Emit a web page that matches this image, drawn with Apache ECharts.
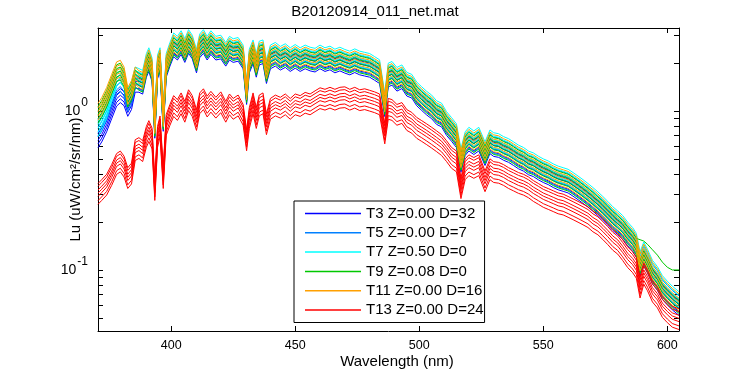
<!DOCTYPE html>
<html><head><meta charset="utf-8">
<script src="https://cdn.jsdelivr.net/npm/echarts@6/dist/echarts.min.js"></script>
<style>html,body{margin:0;padding:0;background:#fff}#c{width:750px;height:375px}</style>
</head><body><div id="c"></div>
<script>
// ---- data ----
const wavelength = [
  370.5, 372, 374, 376, 378, 379.5, 381, 382.5, 384, 385.5,
  387, 388.5, 390, 391, 392.3, 393.4, 394.5, 395.5, 396.8, 398,
  399.5, 401, 402.5, 404, 405.5, 407, 408.5, 410.2, 411.5, 413,
  414.5, 416, 418, 420, 422, 423.5, 425, 427, 429, 430.4,
  431.5, 433, 434.3, 435.5, 437, 438.4, 440, 442, 444, 446,
  448, 450, 452, 454, 456, 458, 460, 462, 464, 466,
  468, 470, 472, 474, 476, 478, 480, 482, 484, 486.1,
  487.5, 489, 491, 493, 495, 497, 499, 501, 503, 505,
  507, 509, 511, 513, 515, 516.8, 518.5, 520, 522, 524,
  526.5, 528.5, 530, 532, 534, 536, 538, 540, 542, 544,
  546, 548, 550, 552, 554, 556, 558, 560, 562, 564,
  566, 568, 570, 572, 574, 576, 578, 580, 582, 584,
  586, 587.5, 589, 590.5, 592, 594, 596, 598, 600, 602,
  604.7
];
// upper envelope of the T3..T11 spectra
const luBandTop = [
  1.15, 1.25, 1.45, 1.75, 2.10, 2.15, 1.95, 1.45, 1.60, 1.95,
  1.85, 1.80, 2.30, 2.50, 2.15, 0.95, 2.25, 2.50, 1.05, 2.30,
  2.70, 3.10, 2.95, 3.20, 2.85, 3.25, 3.00, 2.45, 3.05, 3.25,
  2.95, 3.20, 2.95, 3.00, 2.70, 2.95, 2.85, 2.90, 2.60, 1.55,
  2.45, 2.80, 2.30, 2.75, 2.80, 2.10, 2.60, 2.70, 2.55, 2.65,
  2.50, 2.62, 2.50, 2.60, 2.52, 2.48, 2.60, 2.50, 2.56, 2.45,
  2.52, 2.44, 2.38, 2.46, 2.38, 2.34, 2.30, 2.20, 2.10, 1.30,
  2.00, 2.05, 1.88, 1.95, 1.75, 1.70, 1.52, 1.42, 1.33, 1.26,
  1.16, 1.12, 0.99, 0.91, 0.83, 0.58, 0.74, 0.79, 0.75, 0.79,
  0.64, 0.76, 0.73, 0.72, 0.69, 0.67, 0.64, 0.61, 0.59, 0.56,
  0.545, 0.52, 0.50, 0.485, 0.465, 0.45, 0.44, 0.43, 0.41, 0.39,
  0.37, 0.35, 0.33, 0.31, 0.29, 0.27, 0.25, 0.235, 0.22, 0.20,
  0.185, 0.17, 0.13, 0.15, 0.135, 0.115, 0.105, 0.092, 0.085, 0.079,
  0.073
];
// upper envelope of the T13 spectra
const luRedTop = [
  0.35, 0.37, 0.40, 0.46, 0.54, 0.56, 0.52, 0.44, 0.47, 0.66,
  0.68, 0.65, 0.80, 0.87, 0.78, 0.37, 0.80, 0.93, 0.44, 0.95,
  1.10, 1.25, 1.18, 1.30, 1.15, 1.36, 1.25, 1.02, 1.30, 1.38,
  1.24, 1.33, 1.22, 1.32, 1.15, 1.28, 1.20, 1.26, 1.10, 0.76,
  1.05, 1.30, 1.05, 1.26, 1.30, 0.96, 1.20, 1.26, 1.22, 1.28,
  1.20, 1.28, 1.25, 1.31, 1.28, 1.34, 1.40, 1.37, 1.41, 1.37,
  1.41, 1.42, 1.37, 1.41, 1.36, 1.38, 1.35, 1.32, 1.28, 0.84,
  1.20, 1.18, 1.10, 1.13, 1.02, 0.98, 0.91, 0.87, 0.83, 0.79,
  0.75, 0.71, 0.65, 0.59, 0.56, 0.38, 0.50, 0.53, 0.51, 0.53,
  0.42, 0.50, 0.48, 0.475, 0.46, 0.44, 0.425, 0.41, 0.40, 0.385,
  0.365, 0.35, 0.335, 0.325, 0.315, 0.305, 0.30, 0.29, 0.28, 0.27,
  0.26, 0.25, 0.235, 0.225, 0.21, 0.195, 0.18, 0.17, 0.155, 0.14,
  0.13, 0.12, 0.09, 0.11, 0.10, 0.085, 0.078, 0.068, 0.063, 0.059,
  0.057
];
const groupNames = ['T3 Z=0.00 D=32', 'T5 Z=0.00 D=7', 'T7 Z=0.50 D=0',
                    'T9 Z=0.08 D=0', 'T11 Z=0.00 D=16', 'T13 Z=0.00 D=24'];
const groupColors = ['#0000FF', '#0080FF', '#00FFFF', '#00C800', '#FFA000', '#FF0000'];
// relative level of each spectrum inside its group
const scalesT3 = [0.71, 0.75, 0.79, 0.83, 0.87];
const scalesT5 = [0.74, 0.79, 0.84, 0.89, 0.94];
const scalesT7 = [0.80, 0.85, 0.90, 0.95, 1.00];
const scalesT9 = [0.73, 0.78, 0.83, 0.88, 0.93];
const scalesT11 = [0.76, 0.81, 0.86, 0.91, 0.97];
const scalesT13 = [0.74, 0.78, 0.83, 0.87, 0.91, 0.96, 1.00];
// short-wave (370-386 nm) level of each group relative to the band
const uvT3 = [0.72, 0.72, 0.72, 0.72, 0.72, 0.74, 0.78, 0.90, 0.90, 0.95];
const uvT5 = [0.82, 0.82, 0.82, 0.82, 0.82, 0.84, 0.86, 0.93, 0.93, 0.97];
const uvT7 = [0.75, 0.76, 0.78, 0.82, 0.85, 0.88, 0.90, 0.95, 0.95, 0.97];
const uvT9 = [];
const uvT11 = [];
const uvT13 = [];
// the one T9 spectrum that stays high beyond 589 nm
const t9OutlierFrom = 589;
const t9OutlierTail = [0.155, 0.152, 0.145, 0.134, 0.124, 0.112, 0.104, 0.100, 0.100];
// axis ticks
const xTickValues = [400, 450, 500, 550, 600];
const yTickValues = [0.05, 0.06, 0.07, 0.08, 0.09, 0.1, 0.2, 0.3, 0.4, 0.5, 0.6, 0.7, 0.8, 0.9, 1, 2, 3];
const yLabelValues = [0.1, 1];

// ---- build series ----
const groupScales = [scalesT3, scalesT5, scalesT7, scalesT9, scalesT11, scalesT13];
const groupUv = [uvT3, uvT5, uvT7, uvT9, uvT11, uvT13];
const tailStart = wavelength.indexOf(t9OutlierFrom);
const series = [];
groupNames.forEach((name, gi) => {
  const base = gi === 5 ? luRedTop : luBandTop;
  groupScales[gi].forEach((s, li) => {
    const data = wavelength.map((w, i) => {
      let v = base[i] * s * (i < groupUv[gi].length ? groupUv[gi][i] : 1);
      if (gi === 3 && li === 4 && i >= tailStart) v = t9OutlierTail[i - tailStart];
      return [w, v];
    });
    series.push({
      type: 'line', name: name, data: data, showSymbol: false, symbol: 'none',
      lineStyle: {width: 1, color: groupColors[gi]}, itemStyle: {color: groupColors[gi]},
      animation: false, silent: true
    });
  });
});

const FONT = "'Liberation Sans', Arial, Helvetica, sans-serif";
const axisLineStyle = {show: true, onZero: false, lineStyle: {color: '#000', width: 1}};
const chart = echarts.init(document.getElementById('c'), null, {renderer: 'canvas'});
chart.setOption({
  backgroundColor: '#fff',
  animation: false,
  textStyle: {fontFamily: FONT},
  title: {
    text: 'B20120914_011_net.mat', left: 'center', top: 0,
    padding: [4, 0, 4, 44],
    textStyle: {fontSize: 15, fontWeight: 'normal', color: '#000', fontFamily: FONT}
  },
  grid: {left: 98, right: 71, top: 28, bottom: 44, containLabel: false, outerBoundsMode: 'none'},
  legend: {
    data: groupNames.map((n, i) => ({
      name: n, icon: 'rect',
      itemStyle: {color: groupColors[i], borderColor: groupColors[i], borderWidth: 0, opacity: 1},
      lineStyle: {width: 0}
    })),
    orient: 'vertical', left: 294, top: 201,
    itemWidth: 56, itemHeight: 1.5, itemGap: 4.3,
    padding: [5, 1, 5, 11],
    borderColor: '#000', borderWidth: 1, backgroundColor: '#fff',
    selectedMode: false,
    textStyle: {fontSize: 15, color: '#000', fontFamily: FONT, lineHeight: 15}
  },
  xAxis: [{
    type: 'value', min: 370.5, max: 604.7, position: 'bottom',
    axisLine: axisLineStyle,
    axisTick: {show: true, inside: true, length: 5, customValues: xTickValues, lineStyle: {color: '#000'}},
    axisLabel: {customValues: xTickValues, margin: 8, color: '#000', fontSize: 12.5, fontFamily: FONT},
    splitLine: {show: false},
    name: 'Wavelength (nm)', nameLocation: 'middle', nameGap: 23, nameMoveOverlap: false,
    nameTextStyle: {fontSize: 15, color: '#000', fontFamily: FONT, padding: [0, 0, 0, 17]}
  }, {
    type: 'value', min: 370.5, max: 604.7, position: 'top',
    axisLine: axisLineStyle,
    axisTick: {show: true, inside: true, length: 5, customValues: xTickValues, lineStyle: {color: '#000'}},
    axisLabel: {show: false}, splitLine: {show: false}
  }],
  yAxis: [{
    type: 'log', logBase: 10, min: 0.0413, max: 3.33, position: 'left',
    axisLine: axisLineStyle,
    axisTick: {show: true, inside: true, length: 5, customValues: yTickValues, lineStyle: {color: '#000'}},
    axisLabel: {
      customValues: yLabelValues, margin: 10, color: '#000', fontFamily: FONT,
      formatter: v => {
        const e = Math.round(Math.log10(v));
        return '{b|10}{s|' + e + '}';
      },
      rich: {
        b: {fontSize: 14, color: '#000', fontFamily: FONT},
        s: {fontSize: 12, color: '#000', fontFamily: FONT, padding: [0, 0, 17, 1]}
      }
    },
    splitLine: {show: false}, minorTick: {show: false},
    name: 'Lu (uW/cm²/sr/nm)', nameLocation: 'middle', nameRotate: 90, nameGap: 15, nameMoveOverlap: false,
    nameTextStyle: {fontSize: 15, color: '#000', fontFamily: FONT}
  }, {
    type: 'log', logBase: 10, min: 0.0413, max: 3.33, position: 'right',
    axisLine: axisLineStyle,
    axisTick: {show: true, inside: true, length: 5, customValues: yTickValues, lineStyle: {color: '#000'}},
    axisLabel: {show: false}, splitLine: {show: false}
  }],
  series: series
});
</script>
</body></html>
